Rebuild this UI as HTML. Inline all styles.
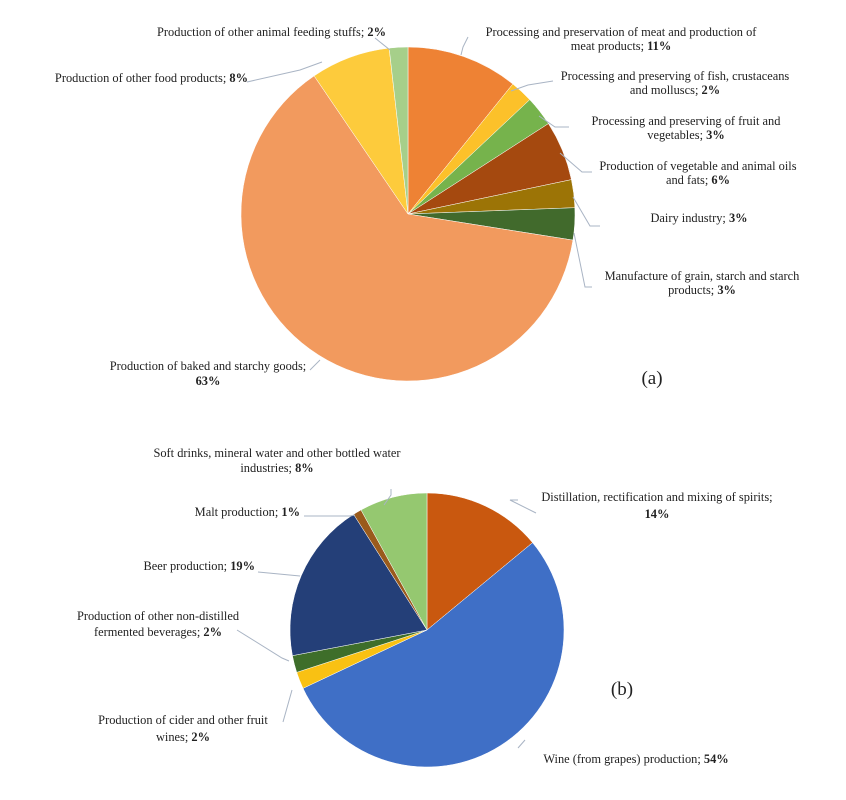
<!DOCTYPE html>
<html><head><meta charset="utf-8"><style>
html,body{margin:0;padding:0;background:#fff;}
svg text{font-family:"Liberation Serif",serif;font-size:12.4px;fill:#222;}
</style></head><body>
<svg id="s" width="846" height="795" xmlns="http://www.w3.org/2000/svg">
<g id="pa"></g><g id="pb"></g>
<g stroke="#a9b4c4" fill="none" stroke-width="1">
<polyline points="468,37 463,47 461,55"/>
<polyline points="553,81 528,85 511,91"/>
<polyline points="569,127 555,127 539,116"/>
<polyline points="592,172 582,172 560,153"/>
<polyline points="600,226 590,226 573,197"/>
<polyline points="592,287 585,287 574,233"/>
<polyline points="247,82 300,70 322,62"/>
<polyline points="375,38 390,50"/>
<polyline points="310,370 320,360"/>
<polyline points="518,500 510,500 536,513"/>
<polyline points="304,516 350,516 355,515"/>
<polyline points="258,572 300,576 299,576"/>
<polyline points="237,630 282,658 289,661"/>
<polyline points="283,722 292,690"/>
<polyline points="518,748 525,740"/>
<polyline points="391,489 391,495 384,505"/>
</g>
<g>
<text x="386" y="36" text-anchor="end">Production of other animal  feeding stuffs; <tspan font-weight="bold">2%</tspan></text>
<text x="248" y="82" text-anchor="end">Production of other food products; <tspan font-weight="bold">8%</tspan></text>
<text x="621" y="36" text-anchor="middle">Processing and preservation of meat and production of</text>
<text x="621" y="50" text-anchor="middle">meat products; <tspan font-weight="bold">11%</tspan></text>
<text x="675" y="80" text-anchor="middle">Processing and preserving of fish, crustaceans</text>
<text x="675" y="94" text-anchor="middle">and molluscs; <tspan font-weight="bold">2%</tspan></text>
<text x="686" y="125" text-anchor="middle">Processing and preserving of fruit  and</text>
<text x="686" y="139" text-anchor="middle">vegetables;  <tspan font-weight="bold">3%</tspan></text>
<text x="698" y="170" text-anchor="middle">Production of vegetable  and animal  oils</text>
<text x="698" y="184" text-anchor="middle">and fats; <tspan font-weight="bold">6%</tspan></text>
<text x="699" y="222" text-anchor="middle">Dairy  industry;  <tspan font-weight="bold">3%</tspan></text>
<text x="702" y="280" text-anchor="middle">Manufacture  of grain,  starch and starch</text>
<text x="702" y="294" text-anchor="middle">products; <tspan font-weight="bold">3%</tspan></text>
<text x="208" y="370" text-anchor="middle">Production of baked and starchy goods;</text>
<text x="208" y="385" text-anchor="middle" font-weight="bold">63%</text>
<text x="652" y="384" text-anchor="middle" style="font-size:19px">(a)</text>
<text x="277" y="457" text-anchor="middle">Soft drinks, mineral water and other bottled water</text>
<text x="277" y="472" text-anchor="middle">industries; <tspan font-weight="bold">8%</tspan></text>
<text x="300" y="516" text-anchor="end">Malt production;  <tspan font-weight="bold">1%</tspan></text>
<text x="255" y="570" text-anchor="end">Beer production;  <tspan font-weight="bold">19%</tspan></text>
<text x="158" y="620" text-anchor="middle">Production of other non-distilled</text>
<text x="158" y="636" text-anchor="middle">fermented beverages;  <tspan font-weight="bold">2%</tspan></text>
<text x="183" y="724" text-anchor="middle">Production of cider and other fruit</text>
<text x="183" y="741" text-anchor="middle">wines; <tspan font-weight="bold">2%</tspan></text>
<text x="657" y="501" text-anchor="middle">Distillation, rectification and mixing of spirits;</text>
<text x="657" y="518" text-anchor="middle" font-weight="bold">14%</text>
<text x="636" y="763" text-anchor="middle">Wine (from grapes) production; <tspan font-weight="bold">54%</tspan></text>
<text x="622" y="695" text-anchor="middle" style="font-size:19px">(b)</text>
</g>
</svg>
<script>
function pie(g,cx,cy,r,vals,cols){
 var tot=vals.reduce(function(a,b){return a+b},0),a=0,h='';
 for(var i=0;i<vals.length;i++){
  var a2=a+vals[i]/tot*2*Math.PI;
  var x1=cx+r*Math.sin(a),y1=cy-r*Math.cos(a),x2=cx+r*Math.sin(a2),y2=cy-r*Math.cos(a2);
  h+='<path d="M'+cx+','+cy+'L'+x1+','+y1+'A'+r+','+r+' 0 '+(a2-a>Math.PI?1:0)+' 1 '+x2+','+y2+'Z" fill="'+cols[i]+'" stroke="#fff" stroke-width="0.5"/>';
  a=a2;}
 document.getElementById(g).innerHTML=h;}
pie('pa',408,214,167,[10.8,2.2,2.9,5.8,2.7,3.1,63,7.7,1.8],
 ['#EE8234','#FCC12A','#76B34C','#A5490F','#9C7406','#416A2C','#F29A5E','#FDCB3C','#A6CF8A']);
pie('pb',427,630,137,[14,54,2,2,19,1,8],
 ['#C9580F','#3F6FC6','#F9C113','#3E6E2A','#243F78','#9A5B1C','#95C870']);
</script>
</body></html>
